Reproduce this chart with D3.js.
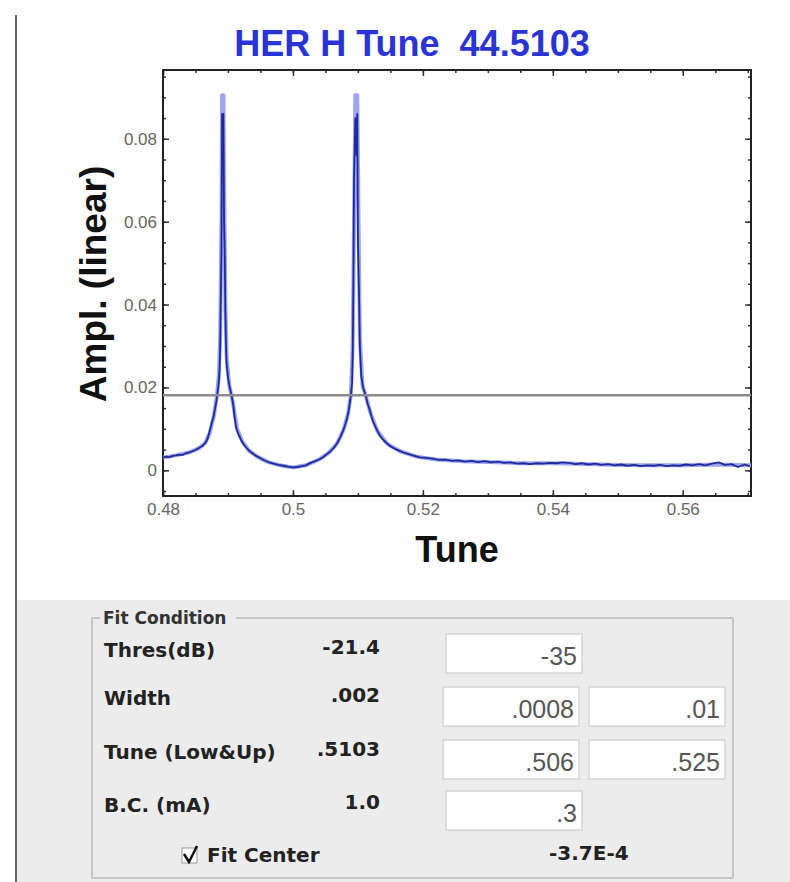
<!DOCTYPE html>
<html>
<head>
<meta charset="utf-8">
<script src="https://cdn.jsdelivr.net/npm/d3@7"></script>
<style>
  html, body { margin: 0; padding: 0; background: #fff; }
  svg { display: block; }
  .pre { white-space: pre; }
</style>
</head>
<body>
<div id="chart"></div>
<script>
// measured spectrum (dark blue)
const tune = [
  0.4800, 0.4805, 0.4810, 0.4815, 0.4820, 0.4825, 0.4830, 0.4835, 0.4840, 0.4845,
  0.4850, 0.4855, 0.4860, 0.4865, 0.4868, 0.4871, 0.4874, 0.4877, 0.4880, 0.4882,
  0.4884, 0.4886, 0.4887, 0.4888, 0.4889, 0.4890, 0.4891, 0.4892, 0.4893, 0.4894,
  0.4895, 0.4896, 0.4897, 0.4898, 0.4900, 0.4902, 0.4905, 0.4908, 0.4910, 0.4913,
  0.4916, 0.4920, 0.4924, 0.4928, 0.4932, 0.4936, 0.4942, 0.4948, 0.4955, 0.4962,
  0.4970, 0.4978, 0.4985, 0.4992, 0.5000, 0.5007, 0.5014, 0.5020, 0.5027, 0.5034,
  0.5040, 0.5046, 0.5052, 0.5058, 0.5064, 0.5069, 0.5073, 0.5077, 0.5080, 0.5083,
  0.5086, 0.5089, 0.5091, 0.5092, 0.5093, 0.5094, 0.5096, 0.5098, 0.5099, 0.5100,
  0.5101, 0.5102, 0.5103, 0.5105, 0.5108, 0.5112, 0.5115, 0.5118, 0.5121, 0.5124,
  0.5129, 0.5134, 0.5140, 0.5149, 0.5158, 0.5170, 0.5182, 0.5195, 0.5205, 0.5215,
  0.5225, 0.5235, 0.5245, 0.5255, 0.5265, 0.5275, 0.5285, 0.5295, 0.5305, 0.5315,
  0.5325, 0.5335, 0.5345, 0.5355, 0.5365, 0.5375, 0.5385, 0.5395, 0.5405, 0.5415,
  0.5425, 0.5435, 0.5445, 0.5455, 0.5465, 0.5475, 0.5485, 0.5495, 0.5505, 0.5515,
  0.5525, 0.5535, 0.5545, 0.5555, 0.5565, 0.5575, 0.5585, 0.5595, 0.5605, 0.5615,
  0.5625, 0.5635, 0.5645, 0.5655, 0.5665, 0.5675, 0.5685, 0.5695, 0.5703
];
const ampl = [
  0.0031, 0.0033, 0.0032, 0.0035, 0.0036, 0.0038, 0.0037, 0.0041, 0.0043, 0.0046,
  0.0049, 0.0054, 0.0058, 0.0066, 0.0074, 0.0090, 0.0108, 0.0125, 0.0147, 0.0165,
  0.0188, 0.0215, 0.0243, 0.0300, 0.0420, 0.0530, 0.0860, 0.0810, 0.0860, 0.0600,
  0.0530, 0.0380, 0.0300, 0.0255, 0.0225, 0.0205, 0.0185, 0.0160, 0.0130, 0.0100,
  0.0088, 0.0074, 0.0063, 0.0055, 0.0048, 0.0043, 0.0036, 0.0031, 0.0025, 0.0020,
  0.0016, 0.0013, 0.0011, 0.0009, 0.0007, 0.0008, 0.0010, 0.0012, 0.0018, 0.0022,
  0.0026, 0.0031, 0.0039, 0.0046, 0.0056, 0.0068, 0.0080, 0.0095, 0.0108, 0.0123,
  0.0145, 0.0179, 0.0210, 0.0280, 0.0450, 0.0700, 0.0850, 0.0760, 0.0860, 0.0560,
  0.0480, 0.0400, 0.0300, 0.0230, 0.0200, 0.0180, 0.0160, 0.0147, 0.0130, 0.0115,
  0.0098, 0.0083, 0.0072, 0.0059, 0.0051, 0.0043, 0.0037, 0.0031, 0.0030, 0.0028,
  0.0025, 0.0026, 0.0023, 0.0024, 0.0021, 0.0023, 0.0020, 0.0022, 0.0019, 0.0021,
  0.0018, 0.0019, 0.0016, 0.0017, 0.0015, 0.0017, 0.0016, 0.0018, 0.0017, 0.0019,
  0.0018, 0.0015, 0.0017, 0.0014, 0.0016, 0.0013, 0.0015, 0.0012, 0.0014, 0.0011,
  0.0013, 0.0010, 0.0012, 0.0011, 0.0013, 0.0010, 0.0012, 0.0011, 0.0014, 0.0012,
  0.0015, 0.0012, 0.0016, 0.0019, 0.0013, 0.0015, 0.0008, 0.0014, 0.0010
];

// fitted curve (light blue, drawn underneath)
const fitTune = [
  0.4800, 0.4820, 0.4840, 0.4855, 0.4865, 0.4872, 0.4878, 0.4883, 0.4886, 0.4888,
  0.4890, 0.4891, 0.4893, 0.4894, 0.4896, 0.4898, 0.4902, 0.4908, 0.4914, 0.4922,
  0.4932, 0.4945, 0.4960, 0.4980, 0.5000, 0.5020, 0.5040, 0.5055, 0.5068, 0.5078,
  0.5085, 0.5089, 0.5092, 0.5094, 0.5096, 0.5099, 0.5101, 0.5103, 0.5107, 0.5113,
  0.5120, 0.5130, 0.5145, 0.5165, 0.5190, 0.5220, 0.5260, 0.5300, 0.5350, 0.5400,
  0.5450, 0.5500, 0.5550, 0.5600, 0.5650, 0.5705
];
const fitAmpl = [
  0.0031, 0.0036, 0.0043, 0.0053, 0.0066, 0.0090, 0.0130, 0.0180, 0.0230, 0.0320,
  0.0600, 0.0905, 0.0905, 0.0700, 0.0400, 0.0270, 0.0205, 0.0160, 0.0100, 0.0070,
  0.0048, 0.0033, 0.0021, 0.0012, 0.0007, 0.0012, 0.0026, 0.0042, 0.0065, 0.0098,
  0.0138, 0.0180, 0.0300, 0.0600, 0.0905, 0.0905, 0.0600, 0.0320, 0.0205, 0.0175,
  0.0135, 0.0095, 0.0064, 0.0046, 0.0033, 0.0026, 0.0022, 0.0020, 0.0017, 0.0017,
  0.0015, 0.0013, 0.0012, 0.0012, 0.0014, 0.0012
];

const threshold = 0.0181;
const xTicks = [0.48, 0.50, 0.52, 0.54, 0.56];
const xTickLabels = ["0.48", "0.5", "0.52", "0.54", "0.56"];
const yTicks = [0, 0.02, 0.04, 0.06, 0.08];
const yTickLabels = ["0", "0.02", "0.04", "0.06", "0.08"];

const title = "HER H Tune  44.5103";
const xLabel = "Tune";
const yLabel = "Ampl. (linear)";

// fit condition panel
const fitLabels = ["Thres(dB)", "Width", "Tune (Low&Up)", "B.C. (mA)"];
const fitValues = ["-21.4", ".002", ".5103", "1.0"];
const fitInputs = [["-35"], [".0008", ".01"], [".506", ".525"], [".3"]];
const fitCenterLabel = "Fit Center";
const fitCenterValue = "-3.7E-4";

const W = 790, H = 882;
const plot = {left: 163, right: 751, top: 70, bottom: 496};
const sans = "'Liberation Sans', Arial, sans-serif";
const panelFont = "'DejaVu Sans', sans-serif";

const svg = d3.select("#chart").append("svg")
    .attr("width", W)
    .attr("height", H);

svg.append("rect").attr("width", W).attr("height", H).attr("fill", "#fff");

// window border on the left
svg.append("line")
    .attr("x1", 16).attr("x2", 16).attr("y1", 15).attr("y2", H)
    .attr("stroke", "#666").attr("stroke-width", 2);

const x = d3.scaleLinear().domain([0.48, 0.5705]).range([plot.left, plot.right]);
const y = d3.scaleLinear().domain([-0.0062, 0.0966]).range([plot.bottom, plot.top]);

svg.append("text")
    .attr("class", "pre")
    .attr("x", 412).attr("y", 56)
    .attr("text-anchor", "middle")
    .attr("font-family", sans).attr("font-weight", "bold").attr("font-size", 36)
    .attr("fill", "#2a34d4")
    .text(title);

// minor ticks, all four sides, pointing inward
const minorX = x.ticks(18), minorY = y.ticks(20);
const tickStyle = g => g.call(g => g.select(".domain").remove())
    .call(g => g.selectAll("line").attr("stroke", "#333").attr("stroke-width", 1.5));

svg.append("g").attr("transform", `translate(0,${plot.bottom})`)
    .call(d3.axisBottom(x).tickValues(minorX).tickSize(-3).tickFormat(""))
    .call(tickStyle);
svg.append("g").attr("transform", `translate(0,${plot.top})`)
    .call(d3.axisTop(x).tickValues(minorX).tickSize(-3).tickFormat(""))
    .call(tickStyle);
svg.append("g").attr("transform", `translate(${plot.left},0)`)
    .call(d3.axisLeft(y).tickValues(minorY).tickSize(-3).tickFormat(""))
    .call(tickStyle);
svg.append("g").attr("transform", `translate(${plot.right},0)`)
    .call(d3.axisRight(y).tickValues(minorY).tickSize(-3).tickFormat(""))
    .call(tickStyle);

// major ticks + labels
const labelStyle = g => g.selectAll("text")
    .attr("font-family", sans).attr("font-size", 17).attr("fill", "#666");

svg.append("g").attr("transform", `translate(0,${plot.bottom})`)
    .call(d3.axisBottom(x).tickValues(xTicks).tickSize(-6).tickPadding(7)
        .tickFormat((d, i) => xTickLabels[i]))
    .call(tickStyle).call(labelStyle);
svg.append("g").attr("transform", `translate(0,${plot.top})`)
    .call(d3.axisTop(x).tickValues(xTicks).tickSize(-6).tickFormat(""))
    .call(tickStyle);
svg.append("g").attr("transform", `translate(${plot.left},0)`)
    .call(d3.axisLeft(y).tickValues(yTicks).tickSize(-6).tickPadding(6)
        .tickFormat((d, i) => yTickLabels[i]))
    .call(tickStyle).call(labelStyle);
svg.append("g").attr("transform", `translate(${plot.right},0)`)
    .call(d3.axisRight(y).tickValues(yTicks).tickSize(-6).tickFormat(""))
    .call(tickStyle);

// frame
svg.append("rect")
    .attr("x", plot.left).attr("y", plot.top)
    .attr("width", plot.right - plot.left).attr("height", plot.bottom - plot.top)
    .attr("fill", "none").attr("stroke", "#222").attr("stroke-width", 2);

svg.append("clipPath").attr("id", "clip")
  .append("rect")
    .attr("x", plot.left).attr("y", plot.top)
    .attr("width", plot.right - plot.left).attr("height", plot.bottom - plot.top);

const line = d3.line()
    .x(d => x(d[0]))
    .y(d => y(d[1]));

const g = svg.append("g").attr("clip-path", "url(#clip)");

g.append("path")
    .datum(d3.zip(fitTune, fitAmpl))
    .attr("d", line)
    .attr("fill", "none")
    .attr("stroke", "#9ea4f2")
    .attr("stroke-width", 4)
    .attr("stroke-linejoin", "round");

g.append("path")
    .datum(d3.zip(tune, ampl))
    .attr("d", line)
    .attr("fill", "none")
    .attr("stroke", "#1c2a9a")
    .attr("stroke-width", 1.8)
    .attr("stroke-linejoin", "round");

g.append("line")
    .attr("x1", plot.left).attr("x2", plot.right)
    .attr("y1", y(threshold)).attr("y2", y(threshold))
    .attr("stroke", "#8c8c8c").attr("stroke-width", 2.5);

// axis titles
svg.append("text")
    .attr("x", (plot.left + plot.right) / 2).attr("y", 562)
    .attr("text-anchor", "middle")
    .attr("font-family", sans).attr("font-weight", "bold").attr("font-size", 36)
    .attr("fill", "#111")
    .text(xLabel);

svg.append("text")
    .attr("transform", "translate(106,284) rotate(-90)")
    .attr("text-anchor", "middle")
    .attr("font-family", sans).attr("font-weight", "bold").attr("font-size", 37)
    .attr("fill", "#111")
    .text(yLabel);

// ---- lower panel ----
svg.append("rect")
    .attr("x", 17).attr("y", 600).attr("width", W - 17).attr("height", H - 600)
    .attr("fill", "#ececec");

svg.append("rect")
    .attr("x", 92).attr("y", 618).attr("width", 641).attr("height", 260)
    .attr("fill", "none").attr("stroke", "#c6c6c6").attr("stroke-width", 2);

svg.append("rect")
    .attr("x", 100).attr("y", 608).attr("width", 136).attr("height", 20)
    .attr("fill", "#ececec");
svg.append("text")
    .attr("x", 103).attr("y", 624)
    .attr("font-family", panelFont).attr("font-weight", "bold").attr("font-size", 17)
    .attr("fill", "#333")
    .text("Fit Condition");

const rowY = [657, 705, 759, 812];
const boxTop = [634, 687, 740, 791];
const boxX = [[446], [443, 589], [443, 589], [446]];

fitLabels.forEach((label, i) => {
    svg.append("text")
        .attr("x", 104).attr("y", rowY[i])
        .attr("font-family", panelFont).attr("font-weight", "bold").attr("font-size", 20)
        .attr("fill", "#222")
        .text(label);
    svg.append("text")
        .attr("x", 380).attr("y", rowY[i] - 3)
        .attr("text-anchor", "end")
        .attr("font-family", panelFont).attr("font-weight", "bold").attr("font-size", 20)
        .attr("fill", "#222")
        .text(fitValues[i]);
    fitInputs[i].forEach((v, j) => {
        const bx = boxX[i][j];
        svg.append("rect")
            .attr("x", bx).attr("y", boxTop[i]).attr("width", 136).attr("height", 39)
            .attr("fill", "#fff").attr("stroke", "#d4d4d4").attr("stroke-width", 1.5);
        svg.append("text")
            .attr("x", bx + 131).attr("y", boxTop[i] + 31)
            .attr("text-anchor", "end")
            .attr("font-family", sans).attr("font-size", 25)
            .attr("fill", "#555")
            .text(v);
    });
});

// checkbox
svg.append("rect")
    .attr("x", 182).attr("y", 848).attr("width", 15).attr("height", 15)
    .attr("fill", "#fff").attr("stroke", "#999");
svg.append("path")
    .attr("d", "M184,854 L189,862 L197,846")
    .attr("fill", "none").attr("stroke", "#111").attr("stroke-width", 2.5);
svg.append("text")
    .attr("x", 207).attr("y", 862)
    .attr("font-family", panelFont).attr("font-weight", "bold").attr("font-size", 20)
    .attr("fill", "#222")
    .text(fitCenterLabel);
svg.append("text")
    .attr("x", 549).attr("y", 860)
    .attr("font-family", panelFont).attr("font-weight", "bold").attr("font-size", 20)
    .attr("fill", "#222")
    .text(fitCenterValue);
</script>
</body>
</html>
